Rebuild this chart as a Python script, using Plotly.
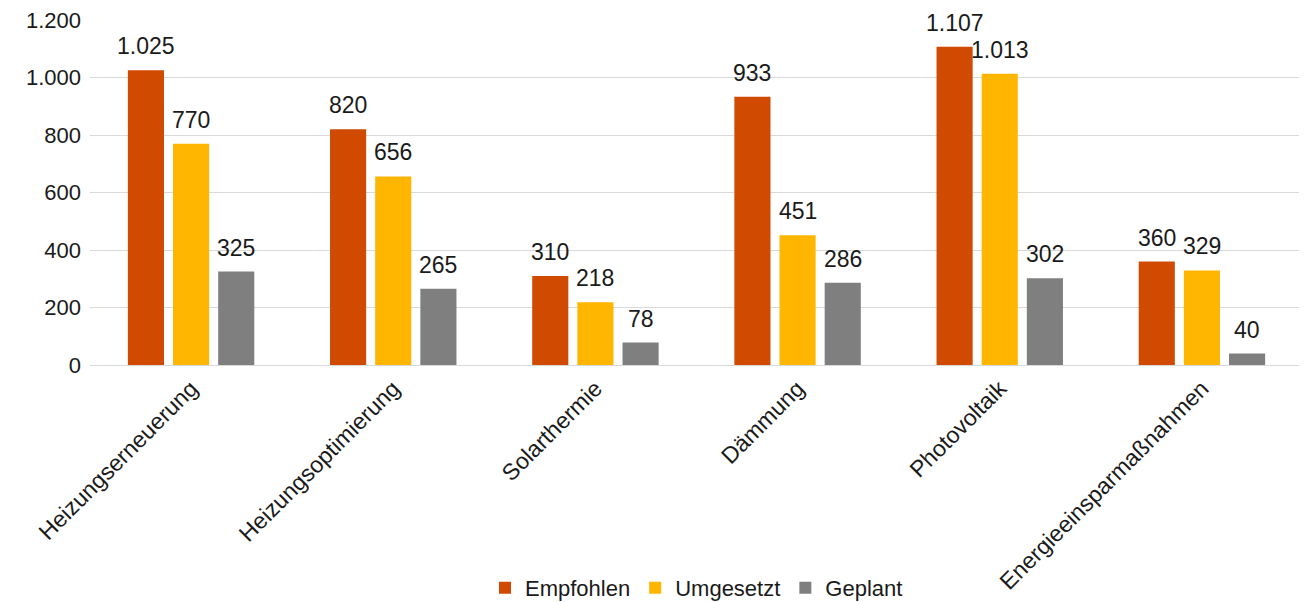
import plotly.graph_objects as go

categories = ["Heizungserneuerung", "Heizungsoptimierung", "Solarthermie",
              "Dämmung", "Photovoltaik", "Energieeinsparmaßnahmen"]
empfohlen = [1025, 820, 310, 933, 1107, 360]
umgesetzt = [770, 656, 218, 451, 1013, 329]
geplant = [325, 265, 78, 286, 302, 40]
y_ticks = [0, 200, 400, 600, 800, 1000, 1200]

series = [("Empfohlen", empfohlen, "#D04A02"),
          ("Umgesetzt", umgesetzt, "#FFB600"),
          ("Geplant", geplant, "#7F7F7F")]

FONT = "Liberation Sans, Arial"
BARGAP = 0.33
slot = (1 - BARGAP) / len(series)

fig = go.Figure()
for si, (name, vals, col) in enumerate(series):
    fig.add_trace(go.Bar(
        x=categories, y=vals, name=name, marker_color=col,
        marker_line_width=0, cliponaxis=False,
    ))
    off = (si - (len(series) - 1) / 2) * slot
    for ci, v in enumerate(vals):
        fig.add_annotation(
            x=ci + off, y=v, xref="x", yref="y",
            text=f"{v:,}".replace(",", "."), showarrow=False,
            yanchor="bottom", yshift=9,
            font=dict(size=23, color="#1a1a1a", family=FONT),
        )

# page body has an 8px margin, so the figure is sized 8px smaller
fig.update_layout(
    width=1299, height=594,
    separators=",.",
    barmode="group", bargap=BARGAP, bargroupgap=0.2,
    plot_bgcolor="white", paper_bgcolor="white",
    margin=dict(l=82, r=4, t=12, b=237, autoexpand=False),
    font=dict(family=FONT, size=18, color="#1a1a1a"),
    legend=dict(orientation="h", x=0.5, xanchor="center",
                y=-0.646, yanchor="middle", font=dict(size=22),
                traceorder="normal"),
    showlegend=True,
)
fig.update_yaxes(range=[0, 1200], tickvals=y_ticks, tickformat=",d",
                 showgrid=True, gridcolor="#D9D9D9", gridwidth=1,
                 zeroline=False, showline=False, ticks="",
                 tickfont=dict(size=22), ticklabelstandoff=8,
                 ticklabeloverflow="allow", automargin=False)
fig.update_xaxes(tickangle=-45, showline=True, linecolor="#D9D9D9",
                 linewidth=1, ticks="", tickfont=dict(size=23),
                 automargin=False)

fig.write_html("out.html")
